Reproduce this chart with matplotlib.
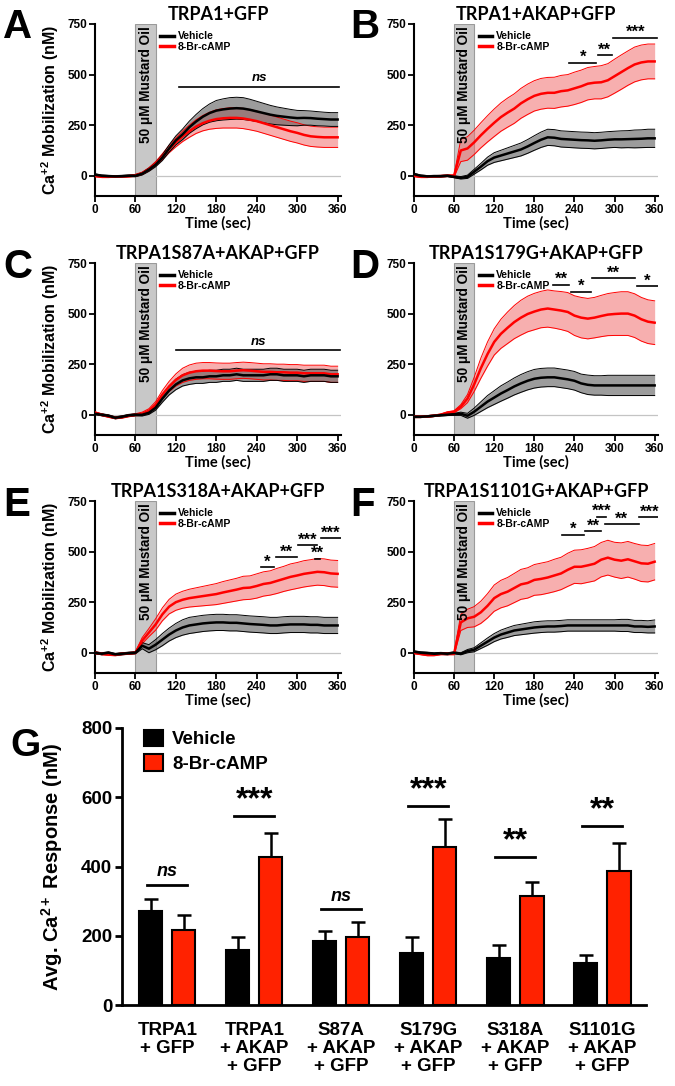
import numpy as np
import matplotlib
matplotlib.use('Agg')
import matplotlib.pyplot as plt
from matplotlib.lines import Line2D

plt.rcParams['mathtext.fontset'] = 'custom'
plt.rcParams['mathtext.rm'] = 'Liberation Sans:bold'
plt.rcParams['mathtext.default'] = 'rm'

W, H = 675, 1086
ARIAL = 'Liberation Sans'
NARROW = ['Liberation Sans Narrow', 'Liberation Sans']
TITLEF = 'Lato'
RED = '#ff0000'

# ---- time course data (sampled every 10 s) ----
time_s = list(range(0, 370, 10))

a_veh = [5, 0, -2, -3, -2, 0, 0, 10, 30, 55, 90, 135, 175, 205, 240, 268, 292, 310, 322, 328,
         332, 334, 332, 326, 318, 310, 302, 296, 292, 288, 285, 286, 285, 282, 280, 278, 278]
a_veh_err = [5, 4, 4, 4, 4, 4, 5, 6, 8, 10, 14, 18, 22, 26, 30, 35, 40, 45, 50, 52,
             54, 54, 54, 52, 50, 48, 46, 44, 42, 40, 38, 36, 35, 35, 34, 34, 34]
a_camp = [0, -5, -5, -4, -3, -2, 2, 12, 32, 60, 95, 132, 165, 195, 220, 243, 260, 272, 280, 284,
          286, 286, 283, 277, 270, 260, 250, 240, 230, 220, 212, 202, 195, 192, 190, 190, 190]
a_camp_err = [5, 4, 4, 4, 4, 4, 5, 6, 8, 10, 14, 18, 22, 26, 30, 34, 38, 42, 46, 48,
              50, 50, 50, 50, 50, 50, 50, 50, 50, 50, 50, 50, 50, 50, 50, 50, 50]

b_veh = [8, 0, -3, -2, -2, 0, -5, -10, -5, 20, 45, 72, 90, 100, 110, 120, 130, 145, 162, 178,
         190, 188, 182, 180, 178, 176, 175, 173, 175, 178, 180, 180, 181, 182, 183, 185, 185]
b_veh_err = [4, 4, 4, 4, 4, 4, 5, 6, 8, 12, 16, 20, 24, 26, 28, 30, 32, 34, 36, 38,
             40, 40, 40, 40, 40, 40, 40, 40, 40, 40, 40, 42, 42, 44, 44, 45, 45]
b_camp = [0, -5, -5, -3, -2, 0, 0, 125, 135, 165, 200, 232, 262, 290, 312, 332, 358, 378, 395, 405,
          410, 410, 418, 422, 432, 442, 455, 460, 462, 472, 492, 512, 532, 550, 560, 565, 565]
b_camp_err = [4, 4, 4, 4, 4, 4, 5, 55, 58, 60, 62, 65, 68, 70, 72, 73, 74, 75, 75, 76,
              76, 77, 78, 78, 80, 80, 80, 80, 82, 82, 84, 85, 85, 86, 86, 86, 86]

c_veh = [5, 0, -5, -15, -10, -3, 0, 0, 10, 35, 80, 120, 150, 170, 180, 185, 185, 190, 190, 195,
         195, 200, 195, 195, 195, 195, 200, 200, 195, 195, 195, 190, 195, 195, 195, 190, 190]
c_veh_err = [5, 5, 5, 5, 5, 5, 5, 6, 8, 12, 18, 22, 26, 28, 30, 30, 30, 30, 30, 30,
             30, 30, 30, 30, 30, 30, 30, 30, 30, 30, 30, 30, 30, 30, 30, 30, 30]
c_camp = [10, 0, -8, -15, -12, -5, 0, 5, 20, 50, 100, 140, 172, 195, 208, 215, 218, 218, 216, 215,
          215, 218, 220, 218, 215, 212, 212, 210, 210, 208, 208, 205, 205, 205, 205, 200, 200]
c_camp_err = [5, 5, 5, 5, 5, 5, 5, 8, 10, 15, 20, 25, 30, 35, 38, 40, 40, 40, 40, 40,
              40, 40, 40, 40, 40, 40, 40, 40, 40, 40, 40, 40, 40, 40, 40, 40, 40]

d_veh = [-10, -10, -8, -5, -2, 0, 2, 5, -5, 15, 40, 65, 85, 105, 122, 140, 155, 168, 178, 183,
         185, 185, 180, 175, 168, 155, 148, 145, 145, 145, 145, 145, 145, 145, 145, 145, 145]
d_veh_err = [4, 4, 4, 4, 4, 4, 5, 8, 12, 18, 24, 30, 34, 38, 40, 42, 44, 45, 46, 46,
             46, 46, 46, 46, 46, 46, 48, 48, 48, 50, 50, 50, 50, 50, 50, 50, 50]
d_camp = [-10, -10, -8, -5, 0, 10, 15, 40, 80, 150, 230, 300, 360, 400, 430, 458, 480, 498, 510, 520,
          525, 520, 515, 508, 490, 480, 475, 480, 488, 495, 498, 500, 500, 490, 472, 460, 455]
d_camp_err = [4, 4, 4, 4, 4, 5, 5, 10, 20, 35, 50, 60, 65, 72, 78, 82, 86, 88, 90, 90,
              92, 92, 94, 96, 98, 100, 100, 100, 102, 104, 106, 108, 108, 108, 108, 108, 108]

e_veh = [0, -5, 0, -8, -5, -2, 0, 35, 20, 40, 65, 90, 110, 125, 135, 140, 145, 148, 150, 150,
         148, 148, 145, 142, 140, 138, 135, 135, 138, 140, 140, 140, 138, 138, 135, 135, 135]
e_veh_err = [5, 5, 5, 5, 5, 5, 5, 15, 20, 25, 30, 32, 35, 38, 40, 40, 40, 40, 40, 40,
             40, 40, 40, 40, 40, 40, 40, 40, 40, 40, 40, 40, 40, 40, 40, 40, 40]
e_camp = [0, -5, -8, -10, -5, -3, 0, 60, 100, 140, 190, 228, 250, 262, 270, 275, 280, 285, 290, 298,
          305, 312, 320, 322, 330, 340, 345, 355, 365, 375, 382, 390, 395, 400, 398, 392, 390]
e_camp_err = [5, 5, 5, 5, 5, 5, 5, 15, 20, 28, 32, 36, 40, 42, 44, 46, 48, 50, 52, 54,
              55, 56, 58, 58, 60, 60, 60, 62, 62, 64, 64, 65, 65, 66, 66, 66, 66]

f_veh = [5, 0, -2, -5, -3, -5, 0, -5, 8, 15, 35, 55, 75, 90, 100, 110, 115, 120, 125, 128,
         130, 130, 132, 135, 135, 135, 135, 135, 135, 135, 135, 135, 135, 130, 130, 128, 130]
f_veh_err = [5, 5, 5, 5, 5, 5, 5, 5, 8, 10, 14, 18, 20, 22, 24, 25, 26, 27, 28, 28,
             28, 28, 28, 28, 28, 28, 28, 28, 28, 28, 28, 30, 30, 30, 30, 30, 32]
f_camp = [0, -5, -10, -10, -5, -5, -5, 150, 170, 178, 200, 232, 270, 290, 302, 320, 338, 345, 360, 365,
          372, 382, 392, 410, 425, 425, 432, 440, 460, 470, 460, 455, 462, 452, 442, 440, 450]
f_camp_err = [5, 5, 5, 5, 5, 5, 5, 40, 45, 50, 55, 60, 65, 68, 70, 72, 74, 75, 76, 78,
              78, 80, 80, 82, 82, 84, 84, 85, 85, 86, 86, 88, 88, 88, 90, 90, 90]

# significance bars: (x start, x end, y, label)
a_sig = [(125, 362, 440, 'ns')]
b_sig = [(232, 273, 559, '*'), (275, 296, 596, '**'), (298, 364, 683, '***')]
c_sig = [(120, 364, 320, 'ns')]
d_sig = [(208, 232, 643, '**'), (235, 265, 608, '*'), (267, 331, 675, '**'), (333, 366, 635, '*')]
e_sig = [(247, 265, 424, '*'), (269, 300, 474, '**'), (301, 329, 531, '***'),
         (326, 334, 465, '**'), (335, 365, 567, '***')]
f_sig = [(221, 255, 583, '*'), (256, 280, 602, '**'), (274, 287, 672, '***'),
         (285, 336, 636, '**'), (337, 368, 669, '***')]

panel_titles = ['TRPA1+GFP', 'TRPA1+AKAP+GFP', 'TRPA1S87A+AKAP+GFP',
                'TRPA1S179G+AKAP+GFP', 'TRPA1S318A+AKAP+GFP', 'TRPA1S1101G+AKAP+GFP']
panel_letters = ['A', 'B', 'C', 'D', 'E', 'F']

# ---- summary bar data ----
groups = ['TRPA1\n+ GFP', 'TRPA1\n+ AKAP\n+ GFP', 'S87A\n+ AKAP\n+ GFP',
          'S179G\n+ AKAP\n+ GFP', 'S318A\n+ AKAP\n+ GFP', 'S1101G\n+ AKAP\n+ GFP']
veh_mean = [272, 160, 186, 150, 137, 121]
veh_sem = [35, 36, 29, 45, 37, 24]
camp_mean = [216, 427, 196, 456, 314, 387]
camp_sem = [44, 70, 43, 81, 42, 82]
sig_y = [346, 545, 276, 574, 427, 518]
sig_txt = ['ns', '***', 'ns', '***', '**', '**']


def px_axes(fig, left, top, width, height):
    return fig.add_axes([left / W, 1 - (top + height) / H, width / W, height / H])


def draw_trace(ax, mean, err, line_c, fill_c, edge_c, alpha):
    mean = np.array(mean, dtype=float)
    err = np.array(err, dtype=float)
    ax.fill_between(time_s, mean - err, mean + err, color=fill_c, alpha=alpha, lw=0, zorder=2)
    ax.plot(time_s, mean + err, color=edge_c, lw=0.7, zorder=3)
    ax.plot(time_s, mean - err, color=edge_c, lw=0.7, zorder=3)
    ax.plot(time_s, mean, color=line_c, lw=1.8, zorder=4)


fig = plt.figure(figsize=(W / 100, H / 100), dpi=100)

series = [(a_veh, a_veh_err, a_camp, a_camp_err, a_sig),
          (b_veh, b_veh_err, b_camp, b_camp_err, b_sig),
          (c_veh, c_veh_err, c_camp, c_camp_err, c_sig),
          (d_veh, d_veh_err, d_camp, d_camp_err, d_sig),
          (e_veh, e_veh_err, e_camp, e_camp_err, e_sig),
          (f_veh, f_veh_err, f_camp, f_camp_err, f_sig)]
col_left = [95, 414]
col_w = [246, 244]
row_top = [24, 263, 501]
letter_xy = [(3, 8), (350, 8), (3, 248), (350, 248), (3, 486), (350, 486)]

for i, (veh, veh_e, camp, camp_e, sigs) in enumerate(series):
    r, c = divmod(i, 2)
    ax = px_axes(fig, col_left[c], row_top[r], col_w[c], 172)
    ax.axvspan(60, 90, facecolor='#c8c8c8', edgecolor='#9a9a9a', lw=0.8, zorder=0)
    ax.axhline(0, color='#c4c4c4', lw=0.9, zorder=1)
    draw_trace(ax, camp, camp_e, RED, '#f26d6d', RED, 0.55)
    draw_trace(ax, veh, veh_e, 'black', '#5a5a5a', 'black', 0.6)
    ax.text(75, 740, '50 \u03bcM Mustard Oil', rotation=90, ha='center', va='top',
            fontsize=9.8, fontweight='bold', family=ARIAL, zorder=5)
    for x0, x1, y, lab in sigs:
        ax.plot([x0, x1], [y, y], color='black', lw=1.2, zorder=5)
        if lab == 'ns':
            ax.text((x0 + x1) / 2, y + 12, lab, ha='center', va='bottom', fontsize=9.5,
                    fontweight='bold', style='italic', family=ARIAL)
        else:
            ax.text((x0 + x1) / 2, y - 12, lab, ha='center', va='bottom', fontsize=12,
                    fontweight='bold', family=ARIAL)
    ax.set_xlim(0, 365)
    ax.set_ylim(-100, 750)
    ax.set_xticks(range(0, 361, 60))
    ax.set_yticks([0, 250, 500, 750])
    for s in ['top', 'right']:
        ax.spines[s].set_visible(False)
    for s in ['left', 'bottom']:
        ax.spines[s].set_linewidth(1.5)
    ax.tick_params(direction='out', length=4, width=1.3, pad=1.5)
    for lab in ax.get_xticklabels() + ax.get_yticklabels():
        lab.set_family(ARIAL)
        lab.set_fontweight('bold')
        lab.set_fontsize(8.5)
    ax.set_xlabel('Time (sec)', fontsize=10.5, family=TITLEF, fontweight='bold', labelpad=0)
    if c == 0:
        ax.set_ylabel('Ca$^{+2}$ Mobilization (nM)', fontsize=11.5, fontweight='bold', family=ARIAL)
        ax.yaxis.set_label_coords(-0.14, 0.5)
    ax.set_title(panel_titles[i], fontsize=13, family=TITLEF, fontweight='bold', pad=3)
    handles = [Line2D([], [], color='black', lw=2.5), Line2D([], [], color=RED, lw=2.5)]
    ax.legend(handles, ['Vehicle', '8-Br-cAMP'], loc='upper left', bbox_to_anchor=(0.235, 1.0),
              frameon=False, handlelength=1.3, handletextpad=0.4, labelspacing=0.05,
              prop={'family': ARIAL, 'weight': 'bold', 'size': 7.5}, borderaxespad=0.3)
    lx, ly = letter_xy[i]
    fig.text(lx / W, 1 - ly / H, panel_letters[i], fontsize=29, fontweight='bold',
             family=ARIAL, va='top', ha='left')

# ---- panel G ----
axg = px_axes(fig, 122, 728, 524, 277)
x = np.arange(len(groups))
bw = 0.265
off = 0.19
axg.bar(x - off, veh_mean, bw, color='black', edgecolor='black', lw=1.5, zorder=2, label='Vehicle')
axg.bar(x + off, camp_mean, bw, color='#ff2200', edgecolor='black', lw=1.5, zorder=2, label='8-Br-cAMP')
axg.errorbar(x - off, veh_mean, yerr=[np.zeros(len(x)), veh_sem], fmt='none', ecolor='black',
             elinewidth=1.8, capsize=5, capthick=1.8, zorder=1)
axg.errorbar(x + off, camp_mean, yerr=[np.zeros(len(x)), camp_sem], fmt='none', ecolor='black',
             elinewidth=1.8, capsize=5, capthick=1.8, zorder=1)
for xi, yi, lab in zip(x, sig_y, sig_txt):
    axg.plot([xi - 0.23, xi + 0.23], [yi, yi], color='black', lw=2)
    if lab == 'ns':
        axg.text(xi, yi + 14, lab, ha='center', va='bottom', fontsize=13, fontweight='bold',
                 style='italic', family=ARIAL)
    else:
        axg.text(xi, yi + 2, lab, ha='center', va='bottom', fontsize=23, fontweight='bold',
                 family=ARIAL)
axg.set_xlim(-0.52, 5.5)
axg.set_ylim(0, 800)
axg.set_yticks([0, 200, 400, 600, 800])
axg.set_xticks(x)
axg.set_xticklabels(groups, linespacing=1.1)
for s in ['top', 'right']:
    axg.spines[s].set_visible(False)
for s in ['left', 'bottom']:
    axg.spines[s].set_linewidth(2)
axg.tick_params(axis='y', direction='out', length=5, width=2, pad=2)
axg.tick_params(axis='x', length=0, pad=12)
for lab in axg.get_yticklabels():
    lab.set_family(NARROW)
    lab.set_fontweight('bold')
    lab.set_fontsize(13.5)
for lab in axg.get_xticklabels():
    lab.set_family(ARIAL)
    lab.set_fontweight('bold')
    lab.set_fontsize(13.5)
    lab.set_va('top')
axg.set_ylabel('Avg. Ca$^{2+}$ Response (nM)', fontsize=14.5, fontweight='bold', family=ARIAL)
axg.yaxis.set_label_coords(-0.108, 0.5)
axg.legend(loc='upper left', bbox_to_anchor=(0.01, 1.055), frameon=False,
           handlelength=1.0, handleheight=1.0, handletextpad=0.5, labelspacing=0.3,
           prop={'family': ARIAL, 'weight': 'bold', 'size': 13.5})
fig.text(10 / W, 1 - 728 / H, 'G', fontsize=28, fontweight='bold', family=ARIAL, va='top', ha='left')

fig.savefig('out.png', dpi=100)
